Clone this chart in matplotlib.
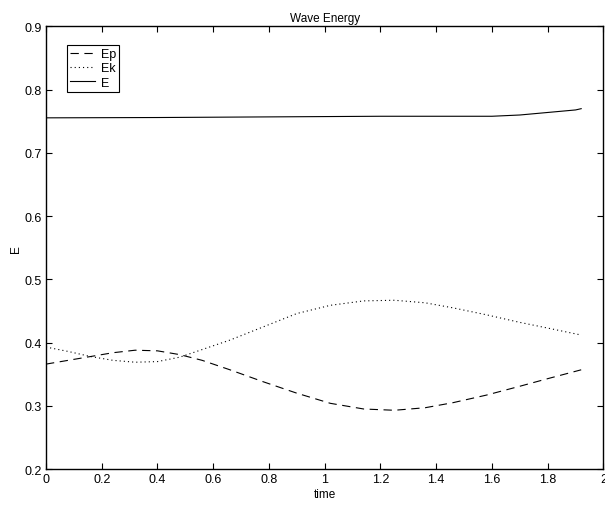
import numpy as np
import matplotlib
matplotlib.use('Agg')
import matplotlib.pyplot as plt

plt.rcParams['font.family'] = ['Liberation Sans', 'DejaVu Sans']
plt.rcParams['font.size'] = 9
plt.rcParams['lines.scale_dashes'] = False

# valores
t_ondas = [0.0, 0.08, 0.16, 0.24, 0.32, 0.40, 0.48, 0.56, 0.66, 0.78,
           0.90, 1.02, 1.14, 1.25, 1.36, 1.46, 1.58, 1.70, 1.80, 1.92]
ep = [0.366, 0.372, 0.378, 0.384, 0.388, 0.387, 0.381, 0.372, 0.357, 0.338,
      0.320, 0.304, 0.295, 0.293, 0.297, 0.305, 0.317, 0.331, 0.343, 0.357]
ek = [0.393, 0.386, 0.378, 0.372, 0.369, 0.370, 0.377, 0.389, 0.404, 0.425,
      0.446, 0.459, 0.466, 0.467, 0.463, 0.455, 0.444, 0.432, 0.423, 0.412]

t_total = [0.0, 0.4, 0.8, 1.2, 1.6, 1.7, 1.8, 1.9, 1.92]
e_total = [0.7555, 0.756, 0.757, 0.758, 0.758, 0.760, 0.764, 0.768, 0.770]

fig = plt.figure(figsize=(6.05, 5.06), dpi=100)
ax = fig.add_axes([0.076, 0.071, 0.9215, 0.8747])

ax.plot(t_ondas, ep, color='black', lw=0.8, dashes=(6, 4), label='Ep')
ax.plot(t_ondas, ek, color='black', lw=0.8, dashes=(0.8, 2.2), label='Ek')
ax.plot(t_total, e_total, color='black', lw=0.8, label='E')

ax.set_xlim(0, 2)
ax.set_ylim(0.2, 0.9)
ax.set_xticks(np.arange(0, 2.01, 0.2))
ax.set_xticklabels(['0', '0.2', '0.4', '0.6', '0.8', '1', '1.2', '1.4', '1.6', '1.8', '2'])
ax.set_yticks(np.arange(0.2, 0.91, 0.1))
ax.set_yticklabels(['0.2', '0.3', '0.4', '0.5', '0.6', '0.7', '0.8', '0.9'])
ax.tick_params(direction='in', top=True, right=True, length=4, width=0.8,
               pad=3, labelsize=9)
for s in ax.spines.values():
    s.set_linewidth(1.0)

ax.set_title('Wave Energy', fontsize=8.5, pad=4)
ax.set_xlabel('time', fontsize=8.5, labelpad=2)
ax.set_ylabel('E', fontsize=8.5, labelpad=2)

leg = ax.legend(loc='upper left', bbox_to_anchor=(0.037, 0.958), borderaxespad=0,
                fancybox=False, edgecolor='black', framealpha=1, fontsize=9,
                handlelength=2.0, labelspacing=0.18, handletextpad=0.5,
                borderpad=0.25)
leg.get_frame().set_linewidth(0.8)

fig.savefig('out.png', dpi=100)
